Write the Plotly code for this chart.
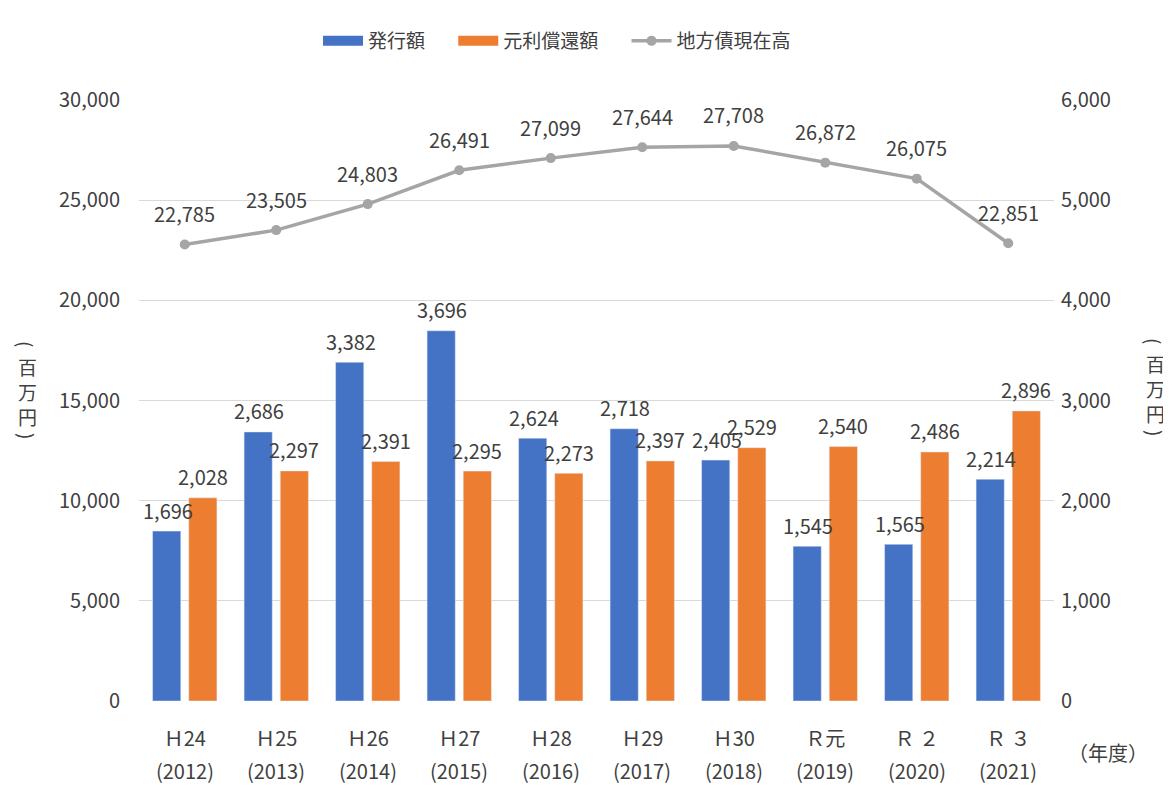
import plotly.graph_objects as go

eras = ["Ｈ24", "Ｈ25", "Ｈ26", "Ｈ27", "Ｈ28", "Ｈ29", "Ｈ30", "Ｒ元", "Ｒ ２", "Ｒ ３"]
years = ["(2012)", "(2013)", "(2014)", "(2015)", "(2016)", "(2017)", "(2018)", "(2019)", "(2020)", "(2021)"]
issuance = [1696, 2686, 3382, 3696, 2624, 2718, 2405, 1545, 1565, 2214]
repayment = [2028, 2297, 2391, 2295, 2273, 2397, 2529, 2540, 2486, 2896]
balance = [22785, 23505, 24803, 26491, 27099, 27644, 27708, 26872, 26075, 22851]

FONT = "Noto Sans CJK JP"
TXT = "#404040"
BLUE = "#4472C4"
ORANGE = "#ED7D31"
GRAY = "#A5A5A5"
LBL = 20

# page body has an 8px margin; plot area targeted at x 139..1054, y 100..701 (page px)
PX0, PX1, PY0, PY1 = 139, 1054, 100, 701


def px(x):
    return (x - PX0) / (PX1 - PX0)


def py(y):
    return (PY1 - y) / (PY1 - PY0)


fig = go.Figure()
fig.add_trace(go.Bar(x=eras, y=issuance, name="発行額", marker_color=BLUE,
                     showlegend=False, yaxis="y"))
fig.add_trace(go.Bar(x=eras, y=repayment, name="元利償還額", marker_color=ORANGE,
                     showlegend=False, yaxis="y"))
fig.add_trace(go.Scatter(x=eras, y=balance, name="地方債現在高", mode="lines+markers",
                         line=dict(color=GRAY, width=3.5),
                         marker=dict(color=GRAY, size=10),
                         showlegend=False, cliponaxis=False, yaxis="y2"))
# legend entries (wide swatches)
for nm, col in [("発行額　 ", BLUE), ("元利償還額　 ", ORANGE)]:
    fig.add_trace(go.Scatter(x=[None], y=[None], mode="lines", name=nm,
                             line=dict(color=col, width=10), yaxis="y"))
fig.add_trace(go.Scatter(x=[None], y=[None], mode="lines+markers", name="地方債現在高",
                         line=dict(color=GRAY, width=3.5), marker=dict(color=GRAY, size=10),
                         yaxis="y2"))

fig.update_layout(
    width=1163, height=777,
    margin=dict(l=PX0 - 8, r=1171 - PX1, t=PY0 - 8, b=785 - PY1),
    paper_bgcolor="white", plot_bgcolor="white",
    font=dict(family=FONT, size=LBL, color=TXT),
    barmode="group", bargap=0.21, bargroupgap=0.22,
    showlegend=True,
    legend=dict(orientation="h", x=px(557), xanchor="center", y=1 - 33 / 777, yanchor="middle",
                yref="container", font=dict(size=19, color=TXT), traceorder="normal",
                itemwidth=40),
    xaxis=dict(showgrid=False, tickfont=dict(size=LBL, color=TXT), showline=False, ticks="",
               automargin=False, ticklabelstandoff=24, range=[-0.5, 9.5], autorange=False),
    yaxis=dict(side="right", range=[0, 6000], dtick=1000, tickformat=",", showgrid=False,
               tickfont=dict(size=LBL, color=TXT), zeroline=False, ticklabelstandoff=6,
               automargin=False),
    yaxis2=dict(side="left", overlaying="y", range=[0, 30000], dtick=5000, tickformat=",",
                showgrid=True, gridcolor="#D9D9D9", gridwidth=1,
                tickfont=dict(size=LBL, color=TXT), zeroline=False, ticklabelstandoff=18,
                automargin=False),
)

# year line of the category labels
for e, yr in zip(eras, years):
    fig.add_annotation(x=e, y=0, xref="x", yref="paper", text=yr, showarrow=False,
                       yshift=-69, yanchor="middle", borderpad=0,
                       font=dict(size=LBL, color=TXT))
# bar value labels
for e, v in zip(eras, issuance):
    fig.add_annotation(x=e, y=v, xref="x", yref="y", text=f"{v:,}", showarrow=False,
                       xshift=-17, yshift=21, yanchor="middle", font=dict(size=LBL, color=TXT))
for e, v in zip(eras, repayment):
    fig.add_annotation(x=e, y=v, xref="x", yref="y", text=f"{v:,}", showarrow=False,
                       xshift=18, yshift=21, yanchor="middle", font=dict(size=LBL, color=TXT))
# line value labels
for e, v in zip(eras, balance):
    fig.add_annotation(x=e, y=v, xref="x", yref="y2", text=f"{v:,}", showarrow=False,
                       yshift=31, yanchor="middle", font=dict(size=LBL, color=TXT))

# vertical axis titles (upright characters, parentheses turned)
title_chars = ["(", "百", "万", "円", ")"]
left_y = [344, 366, 391, 416, 436]
right_y = [341, 363, 388, 413, 433]
for side_x, ys in [(27, left_y), (1155, right_y)]:
    for ch, yy in zip(title_chars, ys):
        fig.add_annotation(text=ch, xref="paper", yref="paper", x=px(side_x), y=py(yy),
                           showarrow=False, textangle=90 if ch in "()" else 0, borderpad=0,
                           font=dict(size=19, color=TXT), xanchor="center", yanchor="middle")
fig.add_annotation(text="（年度）", xref="paper", yref="paper", x=px(1108), y=py(752),
                   showarrow=False, font=dict(size=20, color=TXT), xanchor="center", yanchor="middle")

fig.write_html("out.html")
